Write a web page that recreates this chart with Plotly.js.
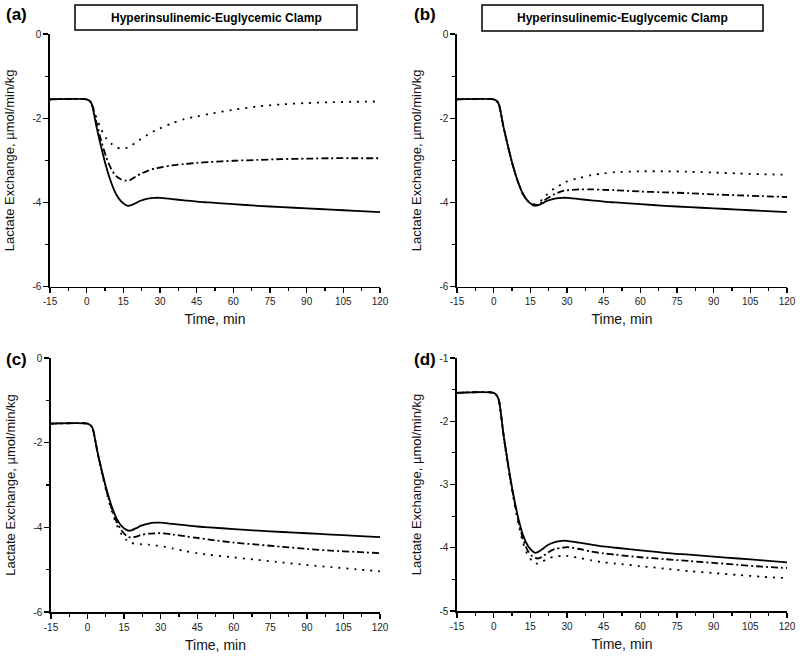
<!DOCTYPE html>
<html>
<head>
<meta charset="utf-8">
<script src="https://cdn.plot.ly/plotly-3.0.1.min.js"></script>
<style>html,body{margin:0;padding:0;background:#fff;}#chart{width:800px;height:656px;}</style>
</head>
<body>
<div id="chart"></div>
<script>
// ---- data ----
const time = [-15, 0, 1, 2, 4, 6, 8, 10, 12, 14, 16, 17, 18, 20, 22, 25, 28, 30, 35, 40, 45, 50, 60, 70, 80, 90, 100, 110, 120];

const solidAll = [-1.55, -1.55, -1.58, -1.65, -2.2, -2.7, -3.15, -3.52, -3.8, -3.97, -4.06, -4.08, -4.07, -4.02, -3.96, -3.91, -3.89, -3.89, -3.92, -3.95, -3.98, -4.0, -4.04, -4.08, -4.11, -4.14, -4.17, -4.2, -4.23];

const dashdotA = [-1.55, -1.55, -1.58, -1.65, -2.1, -2.55, -2.92, -3.2, -3.37, -3.45, -3.48, -3.48, -3.46, -3.39, -3.32, -3.25, -3.19, -3.17, -3.12, -3.09, -3.06, -3.04, -3.01, -2.99, -2.97, -2.96, -2.95, -2.95, -2.95];
const dottedA  = [-1.55, -1.55, -1.58, -1.65, -1.98, -2.27, -2.48, -2.6, -2.68, -2.72, -2.71, -2.69, -2.66, -2.58, -2.5, -2.39, -2.29, -2.24, -2.12, -2.02, -1.96, -1.9, -1.8, -1.72, -1.67, -1.64, -1.62, -1.61, -1.6];

const dashdotB = [-1.55, -1.55, -1.58, -1.65, -2.2, -2.7, -3.15, -3.52, -3.8, -3.97, -4.05, -4.06, -4.05, -3.98, -3.9, -3.8, -3.73, -3.71, -3.69, -3.69, -3.7, -3.71, -3.74, -3.76, -3.78, -3.81, -3.83, -3.85, -3.87];
const dottedB  = [-1.55, -1.55, -1.58, -1.65, -2.2, -2.7, -3.15, -3.52, -3.8, -3.96, -4.03, -4.04, -4.02, -3.92, -3.8, -3.66, -3.56, -3.5, -3.42, -3.35, -3.31, -3.28, -3.26, -3.26, -3.27, -3.29, -3.31, -3.33, -3.34];

const dashdotC = [-1.55, -1.55, -1.58, -1.65, -2.2, -2.72, -3.18, -3.58, -3.88, -4.08, -4.2, -4.23, -4.24, -4.22, -4.18, -4.15, -4.14, -4.14, -4.17, -4.21, -4.25, -4.29, -4.36, -4.41, -4.46, -4.51, -4.55, -4.58, -4.61];
const dottedC  = [-1.55, -1.55, -1.58, -1.65, -2.22, -2.75, -3.22, -3.63, -3.95, -4.17, -4.3, -4.35, -4.37, -4.39, -4.4, -4.41, -4.43, -4.44, -4.5, -4.56, -4.61, -4.65, -4.71, -4.77, -4.83, -4.89, -4.94, -4.99, -5.04];

const dashdotD = [-1.55, -1.55, -1.58, -1.65, -2.2, -2.72, -3.17, -3.56, -3.86, -4.05, -4.14, -4.16, -4.17, -4.14, -4.08, -4.02, -4.0, -3.99, -4.02, -4.06, -4.09, -4.11, -4.15, -4.18, -4.21, -4.24, -4.27, -4.3, -4.32];
const dottedD  = [-1.55, -1.55, -1.58, -1.65, -2.22, -2.75, -3.2, -3.6, -3.92, -4.12, -4.22, -4.25, -4.25, -4.22, -4.17, -4.14, -4.13, -4.13, -4.16, -4.2, -4.23, -4.25, -4.29, -4.33, -4.37, -4.4, -4.43, -4.46, -4.48];

const xTickVals = [-15, 0, 15, 30, 45, 60, 75, 90, 105, 120];
const xTickText = ['-15', '0', '15', '30', '45', '60', '75', '90', '105', '120'];
const yTickValsABC = [-6, -4, -2, 0];
const yTickTextABC = ['-6', '-4', '-2', '0'];
const yTickValsD = [-5, -4, -3, -2, -1];
const yTickTextD = ['-5', '-4', '-3', '-2', '-1'];

const panelLabels = ['(a)', '(b)', '(c)', '(d)'];
const clampTitle = 'Hyperinsulinemic-Euglycemic Clamp';
const xTitle = 'Time, min';
const yTitle = 'Lactate Exchange, \u00b5mol/min/kg';

// ---- traces ----
const panels = [
  {sfx: '',  dd: dashdotA, dt: dottedA},
  {sfx: '2', dd: dashdotB, dt: dottedB},
  {sfx: '3', dd: dashdotC, dt: dottedC},
  {sfx: '4', dd: dashdotD, dt: dottedD}
];
const traces = [];
panels.forEach(p => {
  const common = {x: time, mode: 'lines', xaxis: 'x' + p.sfx, yaxis: 'y' + p.sfx, showlegend: false, hoverinfo: 'skip'};
  traces.push(Object.assign({}, common, {y: p.dt, line: {color: '#000', width: 1.8, dash: '2px,6px', shape: 'spline', smoothing: 0.8}}));
  traces.push(Object.assign({}, common, {y: p.dd, line: {color: '#000', width: 1.8, dash: '7px,3px,2px,3px', shape: 'spline', smoothing: 0.8}}));
  traces.push(Object.assign({}, common, {y: solidAll, line: {color: '#000', width: 1.8, shape: 'spline', smoothing: 0.8}}));
});

// ---- layout ----
const FAM = 'Liberation Sans, Arial, sans-serif';
const tickFont = {family: FAM, size: 10, color: '#222'};
const xTitleFont = {family: FAM, size: 14, color: '#111'};
const yTitleFont = {family: FAM, size: 13, color: '#111'};

function xAxis(domain, anchor) {
  return {
    domain: domain, anchor: anchor, range: [-15, 120],
    tickmode: 'array', tickvals: xTickVals, ticktext: xTickText,
    ticks: 'outside', ticklen: 5, tickwidth: 1.3, tickcolor: '#000',
    minor: {tickmode: 'linear', tick0: -7.5, dtick: 15, ticks: 'outside', ticklen: 3, tickwidth: 1.2, tickcolor: '#000', showgrid: false},
    showline: true, linecolor: '#000', linewidth: 1.6,
    showgrid: false, zeroline: false, tickfont: tickFont,
    title: {text: xTitle, font: xTitleFont, standoff: 8}
  };
}
function yAxis(domain, anchor, range, vals, text, minorD) {
  return {
    domain: domain, anchor: anchor, range: range,
    tickmode: 'array', tickvals: vals, ticktext: text,
    ticks: 'outside', ticklen: 5, tickwidth: 1.3, tickcolor: '#000',
    minor: {tickmode: 'linear', tick0: range[0], dtick: minorD, ticks: 'outside', ticklen: 3, tickwidth: 1.2, tickcolor: '#000', showgrid: false},
    showline: true, linecolor: '#000', linewidth: 1.6,
    showgrid: false, zeroline: false, tickfont: tickFont,
    title: {text: yTitle, font: yTitleFont, standoff: 15}
  };
}

const W = 800, H = 656;
const px = v => v / W, py = v => 1 - v / H;

const boldFont = s => ({family: FAM, size: s, color: '#000', weight: 'bold'});

const layout = {
  width: W, height: H,
  margin: {l: 0, r: 0, t: 0, b: 0},
  paper_bgcolor: '#fff', plot_bgcolor: '#fff',
  showlegend: false,
  xaxis:  xAxis([px(50), px(380)], 'y'),
  yaxis:  yAxis([py(286.7), py(34)], 'x', [-6, 0], yTickValsABC, yTickTextABC, 1),
  xaxis2: xAxis([px(457), px(787)], 'y2'),
  yaxis2: yAxis([py(286.7), py(34)], 'x2', [-6, 0], yTickValsABC, yTickTextABC, 1),
  xaxis3: xAxis([px(51), px(380)], 'y3'),
  yaxis3: yAxis([py(612), py(358)], 'x3', [-6, 0], yTickValsABC, yTickTextABC, 1),
  xaxis4: xAxis([px(457), px(787)], 'y4'),
  yaxis4: yAxis([py(611), py(358)], 'x4', [-5, -1], yTickValsD, yTickTextD, 0.5),
  shapes: [
    {type: 'rect', xref: 'paper', yref: 'paper', x0: px(75), x1: px(357), y0: py(30), y1: py(5), line: {color: '#000', width: 1.5}},
    {type: 'rect', xref: 'paper', yref: 'paper', x0: px(482), x1: px(763), y0: py(31), y1: py(5), line: {color: '#000', width: 1.5}}
  ],
  annotations: [
    {text: clampTitle, xref: 'paper', yref: 'paper', x: px(216), y: py(18), xanchor: 'center', yanchor: 'middle', showarrow: false, font: boldFont(12)},
    {text: clampTitle, xref: 'paper', yref: 'paper', x: px(622), y: py(18), xanchor: 'center', yanchor: 'middle', showarrow: false, font: boldFont(12)},
    {text: panelLabels[0], xref: 'paper', yref: 'paper', x: px(4), y: py(14), xanchor: 'left', yanchor: 'middle', showarrow: false, font: boldFont(17)},
    {text: panelLabels[1], xref: 'paper', yref: 'paper', x: px(412), y: py(14), xanchor: 'left', yanchor: 'middle', showarrow: false, font: boldFont(17)},
    {text: panelLabels[2], xref: 'paper', yref: 'paper', x: px(4), y: py(359), xanchor: 'left', yanchor: 'middle', showarrow: false, font: boldFont(17)},
    {text: panelLabels[3], xref: 'paper', yref: 'paper', x: px(412), y: py(359), xanchor: 'left', yanchor: 'middle', showarrow: false, font: boldFont(17)}
  ]
};

Plotly.newPlot('chart', traces, layout, {displayModeBar: false, staticPlot: true});
</script>
</body>
</html>
